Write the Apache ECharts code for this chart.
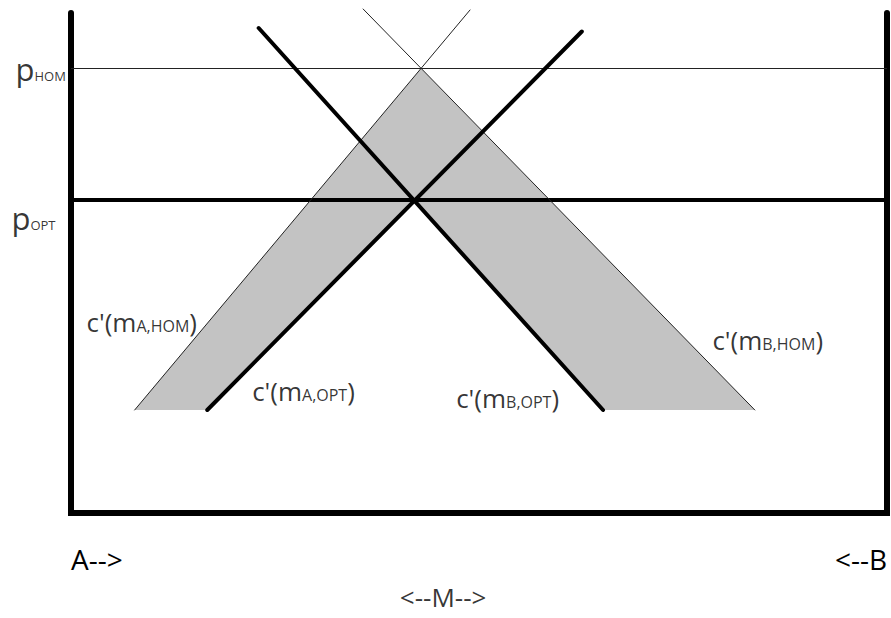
<!DOCTYPE html>
<html>
<head>
<meta charset="utf-8">
<script src="https://cdn.jsdelivr.net/npm/echarts@6/dist/echarts.min.js"></script>
<style>
    html, body { margin: 0; padding: 0; background: #fff; }
    #chart { width: 891px; height: 618px; }
</style>
</head>
<body>
<div id="chart"></div>
<script>
// price levels (y) and the marginal cost curves (x = M, y = price)
var priceNames = ['HOM', 'OPT'];
var priceLevels = [88.9, 62.6];

var curveNames = ['A,HOM', 'A,OPT', 'B,OPT', 'B,HOM'];
var curveStart = [[7.8, 20.6], [16.7, 20.6], [23.0, 97.0], [35.8, 100.8]];
var curveEnd = [[48.9, 100.6], [62.6, 96.3], [65.2, 20.6], [83.8, 20.6]];
var curveThick = [false, true, true, false];

// grey area between the hom and opt curves
var shadedRegion = [[7.8, 20.6], [42.9, 88.9], [83.8, 20.6], [65.2, 20.6], [42.1, 62.6], [16.7, 20.6]];

var endLabels = ['A-->', '<--B'];
var middleLabel = '<--M-->';

// where the curve / price names sit (data units: left edge, middle)
var curveNotes = [[1.9, 38.2], [22.2, 24.4], [47.2, 23.0], [78.6, 34.6]];
var priceNotes = [[-6.8, 88.9], [-7.3, 59.0]];
var middleNote = [45.6, -16.8];

var FONT = 'Open Sans';

var dom = document.getElementById('chart');
var myChart = echarts.init(dom, null, {renderer: 'svg'});

var series = [];

series.push({
    type: 'custom',
    z: 1,
    silent: true,
    data: shadedRegion,
    renderItem: function (params, api) {
        if (params.dataIndex !== 0) {
            return null;
        }
        var pts = shadedRegion.map(function (p) { return api.coord(p); });
        return {
            type: 'polygon',
            shape: {points: pts},
            style: {fill: '#c3c3c3', stroke: null}
        };
    }
});

for (var i = 0; i < priceLevels.length; i++) {
    series.push({
        name: 'p' + priceNames[i],
        type: 'line',
        z: 3,
        symbol: 'none',
        silent: true,
        data: [[0, priceLevels[i]], [100, priceLevels[i]]],
        lineStyle: {color: i === 0 ? '#222' : '#000', width: i === 0 ? 1 : 4}
    });
}

for (var j = 0; j < curveNames.length; j++) {
    series.push({
        name: "c'(m" + curveNames[j] + ')',
        type: 'line',
        z: curveThick[j] ? 5 : 4,
        symbol: 'none',
        silent: true,
        clip: false,
        data: [curveStart[j], curveEnd[j]],
        lineStyle: {
            color: curveThick[j] ? '#000' : '#222',
            width: curveThick[j] ? 4 : 1,
            cap: 'round'
        }
    });
}

var notes = [];
for (var k = 0; k < curveNames.length; k++) {
    notes.push({
        value: curveNotes[k],
        label: {formatter: "{m|c'(m}{s|" + curveNames[k] + '}{m|)}'}
    });
}
for (var n = 0; n < priceNames.length; n++) {
    notes.push({
        value: priceNotes[n],
        label: {formatter: '{p|p}{t|' + priceNames[n] + '}'}
    });
}
notes.push({
    value: middleNote,
    label: {formatter: '{b|' + middleLabel + '}', align: 'center'}
});

series.push({
    type: 'scatter',
    z: 6,
    silent: true,
    clip: false,
    symbolSize: 0,
    data: notes,
    label: {
        show: true,
        position: 'inside',
        align: 'left',
        verticalAlign: 'middle',
        color: '#000',
        fontFamily: FONT,
        rich: {
            m: {fontSize: 26, lineHeight: 26, verticalAlign: 'bottom', fontFamily: FONT, color: '#000'},
            s: {fontSize: 16, lineHeight: 16, verticalAlign: 'bottom', padding: [0, 0, 1, 0], fontFamily: FONT, color: '#000'},
            p: {fontSize: 31, lineHeight: 31, verticalAlign: 'bottom', fontFamily: FONT, color: '#000'},
            t: {fontSize: 13, lineHeight: 13, verticalAlign: 'bottom', padding: [0, 0, 2, 0], fontFamily: FONT, color: '#000'},
            b: {fontSize: 26, lineHeight: 26, fontFamily: FONT, color: '#000'}
        }
    }
});

var frameLine = {show: true, lineStyle: {color: '#000', width: 6}};

var option = {
    backgroundColor: '#fff',
    animation: false,
    grid: {left: 71, right: 4, top: 13, bottom: 105},
    xAxis: {
        type: 'value',
        min: 0,
        max: 100,
        interval: 100,
        splitLine: {show: false},
        axisTick: {show: false},
        axisLine: {show: true, lineStyle: {color: '#000', width: 6, cap: 'square'}},
        axisLabel: {
            show: true,
            margin: 32,
            fontSize: 28,
            fontFamily: FONT,
            color: '#000',
            alignMinLabel: 'left',
            alignMaxLabel: 'right',
            formatter: function (v) {
                return v === 0 ? endLabels[0] : endLabels[1];
            }
        }
    },
    yAxis: [
        {
            type: 'value', min: 0, max: 100, position: 'left',
            splitLine: {show: false}, axisTick: {show: false}, axisLabel: {show: false},
            axisLine: frameLine
        },
        {
            type: 'value', min: 0, max: 100, position: 'right',
            splitLine: {show: false}, axisTick: {show: false}, axisLabel: {show: false},
            axisLine: frameLine
        }
    ],
    series: series
};

myChart.setOption(option);
</script>
</body>
</html>
